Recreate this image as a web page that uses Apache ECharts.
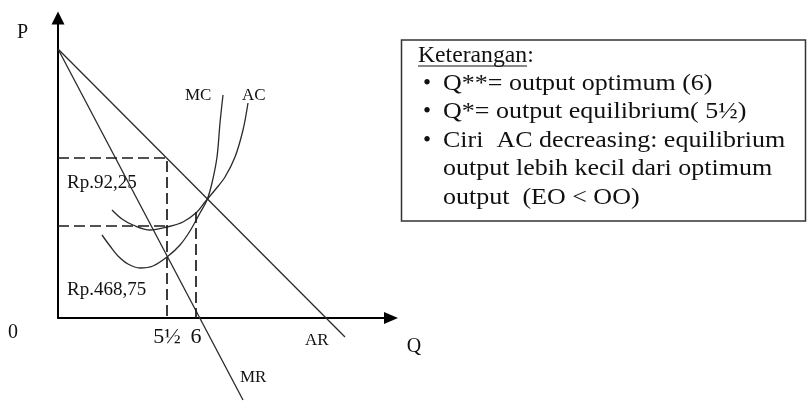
<!DOCTYPE html>
<html>
<head>
<meta charset="utf-8">
<script src="https://cdn.jsdelivr.net/npm/echarts@6/dist/echarts.min.js"></script>
<style>
  html, body { margin: 0; padding: 0; background: #fff; }
  #chart { width: 807px; height: 401px; }
</style>
</head>
<body>
<div id="chart"></div>
<script>
// points, arbitrary units with the origin at the axes corner
var arLine = [[0, 269], [287, -19]];
var mrLine = [[0, 269], [185, -82]];
var mcCurve = [[44, 83], [52, 72], [60, 62], [70, 54], [82, 50], [95, 52], [109, 61], [122, 73],
               [132, 87], [142, 105], [149, 118], [154, 135], [159, 161], [162, 195], [165, 223]];
var acCurve = [[54, 108], [64, 99], [75, 93], [92, 88], [109, 91], [125, 96], [139, 106], [147, 116],
               [157, 128], [167, 141], [177, 161], [185, 188], [190, 215]];
var guideHigh = [[0, 160], [109, 160], [109, 0]];
var guideLow = [[0, 92], [109, 92]];
var guideQ = [[138, 106], [138, 0]];

var qTickValues = [109, 138];
var qTickLabels = ['5½', '6'];

var noteTitle = 'Keterangan:';
var noteLines = ['Q**= output optimum (6)', 'Q*= output equilibrium( 5½)',
                 'Ciri  AC decreasing: equilibrium', 'output lebih kecil dari optimum', 'output  (EO < OO)'];
var noteBullets = [true, true, true, false, false];

var serif = "'Liberation Serif', 'Times New Roman', serif";
var myChart = echarts.init(document.getElementById('chart'));

function curve(data, extra) {
    var s = {
        type: 'line',
        data: data,
        showSymbol: false,
        symbol: 'none',
        clip: false,
        silent: true,
        lineStyle: { color: '#2a2a2a', width: 1.3 }
    };
    for (var k in extra) s[k] = extra[k];
    return s;
}
function dashed(data) {
    return curve(data, { lineStyle: { color: '#1a1a1a', width: 1.7, type: [11, 5] } });
}

function txt(str, x, y, size, align, sx) {
    return {
        type: 'text', x: x, y: y, scaleX: sx || 1, silent: true,
        style: { text: str, font: size + 'px ' + serif, fill: '#111',
                 textAlign: align || 'left', textVerticalAlign: 'middle' }
    };
}

var graphics = [
    txt('P', 22.5, 33, 20, 'center'),
    txt('0', 13, 333, 20, 'center'),
    txt('Q', 414, 346.5, 20, 'center'),
    txt('MC', 185, 96, 17),
    txt('AC', 242, 96, 17),
    txt('AR', 305, 341, 17),
    txt('MR', 240, 378, 17),
    txt('Rp.92,25', 67, 183.5, 19),
    txt('Rp.468,75', 67, 290, 19),
    {
        type: 'rect', silent: true,
        shape: { x: 401.5, y: 40, width: 404, height: 181 },
        style: { fill: '#fff', stroke: '#333', lineWidth: 1.5 }
    },
    txt(noteTitle, 418, 55.5, 23, 'left', 1.03),
    {
        type: 'line', silent: true,
        shape: { x1: 418, y1: 66, x2: 527, y2: 66 },
        style: { stroke: '#111', lineWidth: 1 }
    }
];
for (var i = 0; i < noteLines.length; i++) {
    var cy = 84 + i * 28.4;
    if (noteBullets[i]) graphics.push(txt('•', 427, cy, 23, 'center'));
    graphics.push(txt(noteLines[i], 443, cy, 23, 'left', 1.13));
}

option = {
    animation: false,
    backgroundColor: '#fff',
    grid: { left: 58, top: 18, right: 416, bottom: 83, outerBoundsMode: 'none' },
    xAxis: {
        type: 'value', min: 0, max: 333,
        axisLine: { onZero: true, symbol: ['none', 'triangle'], symbolSize: [12, 14],
                    lineStyle: { color: '#000', width: 2 } },
        axisTick: { show: false },
        splitLine: { show: false },
        axisLabel: {
            customValues: qTickValues,
            margin: 8,
            fontFamily: serif, fontSize: 22, color: '#111',
            formatter: function (v) { return qTickLabels[qTickValues.indexOf(v)]; }
        }
    },
    yAxis: {
        type: 'value', min: 0, max: 300,
        axisLine: { show: true, symbol: ['none', 'triangle'], symbolSize: [13, 13],
                    lineStyle: { color: '#000', width: 2 } },
        axisTick: { show: false },
        axisLabel: { show: false },
        splitLine: { show: false }
    },
    series: [
        curve(arLine),
        curve(mrLine),
        curve(mcCurve, { smooth: 0.35 }),
        curve(acCurve, { smooth: 0.35 }),
        dashed(guideHigh),
        dashed(guideLow),
        dashed(guideQ)
    ],
    graphic: graphics
};

myChart.setOption(option);
window.addEventListener('resize', function () {
    myChart.resize();
});
</script>
</body>
</html>
